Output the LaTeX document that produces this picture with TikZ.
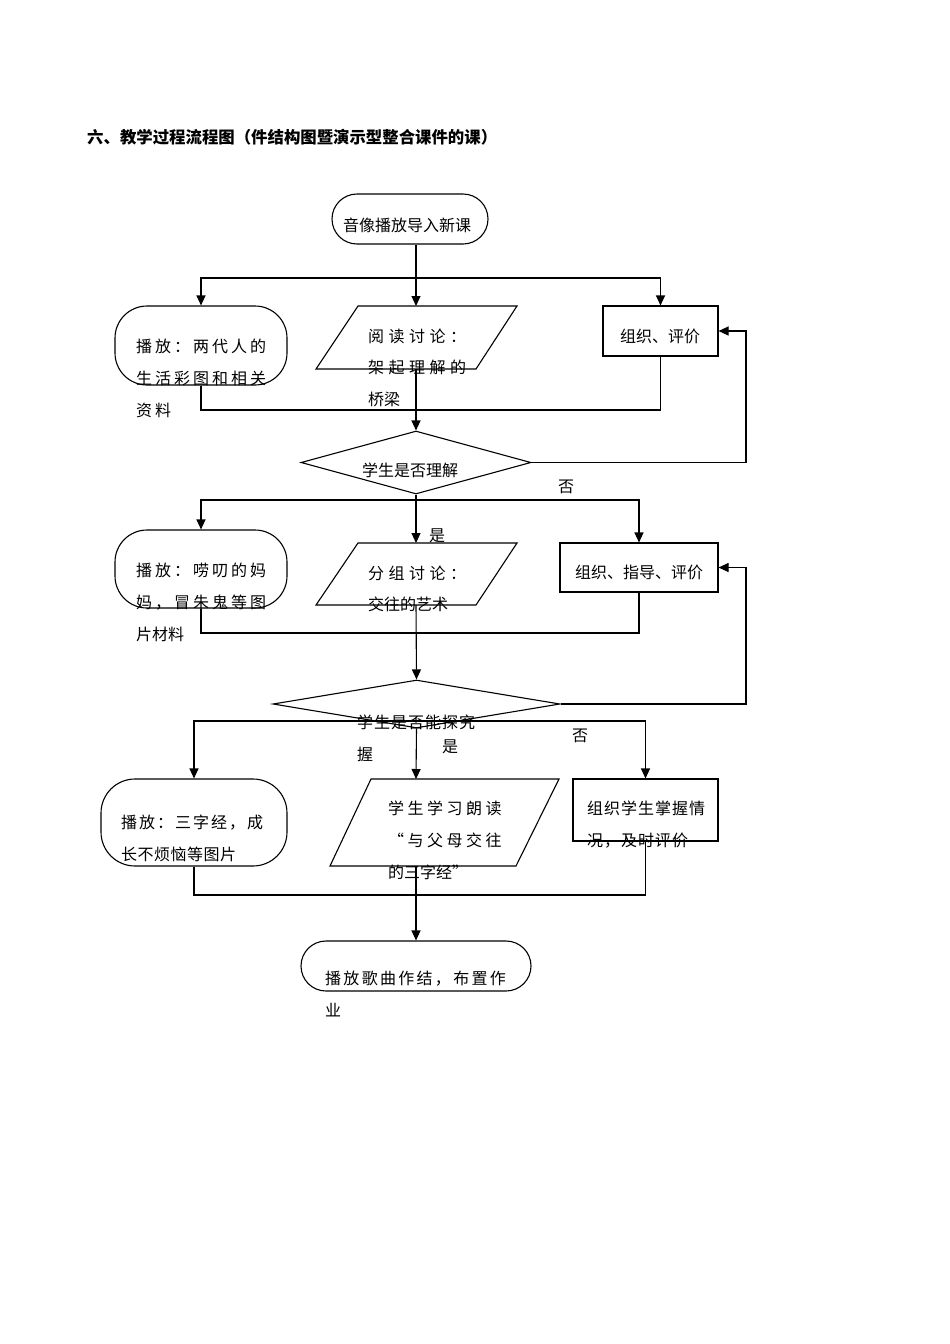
\documentclass[tikz,border=0pt]{standalone}
\usepackage{fontspec}
\setmainfont{Noto Sans CJK SC}
\usetikzlibrary{arrows.meta,shapes.geometric}
\newlength\chsp
\def\sploop#1{\ifx\relax#1\else#1\hskip\chsp\relax\expandafter\sploop\fi}
\newcommand\spt[2]{{\chsp=#1\relax\sploop#2\relax}}
\tikzset{
  line/.style={line width=1.1pt},
  arr/.style={line width=1.1pt,-{Triangle[length=10pt,width=9pt]}},
  term/.style={draw,line width=1.1pt,inner sep=0pt,rectangle},
  box/.style={draw,line width=1.1pt,inner sep=0pt,rectangle},
  dec/.style={draw,diamond,line width=1.1pt,inner sep=0pt},
  txt/.style={anchor=base west,inner sep=0pt,font=\fontsize{16}{16}\selectfont},
  ctxt/.style={anchor=base,inner sep=0pt,font=\fontsize{16}{16}\selectfont},
}
\begin{document}
\begin{tikzpicture}[x=1pt,y=-1pt]
\fill[white] (0,0) rectangle (950,1344);
\useasboundingbox (0,0) rectangle (950,1344);

% title
\node[anchor=base west,inner sep=0pt,font=\fontsize{16.4}{16.4}\selectfont\bfseries] (title) at (87,143) {六、教学过程流程图（件结构图暨演示型整合课件的课）};

% start
\node[term,minimum width=156pt,minimum height=50pt,rounded corners=25pt] (start) at (410,219) {};
\node[ctxt] (startT) at (407,231) {音像播放导入新课};

% ---------- row 1 ----------
\node[term,minimum width=172pt,minimum height=79pt,rounded corners=32pt] (t1) at (201,345.5) {};
\node[txt] (t1a) at (136,352) {\spt{3pt}{播放：两代人的}};
\node[txt] (t1b) at (136,384) {\spt{3pt}{生活彩图和相关}};
\node[txt] (t1c) at (136,416) {\spt{3pt}{资料}};

\draw[line] (358,306) -- (517,306) -- (476,369) -- (316,369) -- cycle;
\coordinate (p1t) at (416,306);
\coordinate (p1b) at (416,369);
\node[txt] (p1a) at (368,342) {\spt{4.5pt}{阅读讨论：}};
\node[txt] (p1b2) at (368,373) {\spt{4.5pt}{架起理解的}};
\node[txt] (p1c) at (368,405) {桥梁};

\node[box,minimum width=115pt,minimum height=50pt] (r1) at (660.5,331) {};
\node[ctxt] (r1T) at (660,342) {组织、评价};

\node[dec,minimum width=230pt,minimum height=63pt] (d1) at (416,462.5) {};
\node[ctxt] (d1T) at (410,476) {学生是否理解};

\coordinate (b1) at (416,278);
\coordinate (j1) at (416,410);
\coordinate (fb) at (746,0);
\draw[line] (start.south -| b1) -- (b1);
\draw[arr] (b1) -| (t1.north);
\draw[arr] (b1) -| (r1.north);
\draw[arr] (b1) -- (p1t);
\draw[line] (t1.south) |- (j1) -| (r1.south);
\draw[arr] (p1b) -- (d1.north);
\draw[arr] (d1.east) -- (d1.east -| fb) |- (r1.east);
\node[ctxt] (no1) at (566,492) {否};

% ---------- row 2 ----------
\node[ctxt] (yes1) at (437,541) {是};
\node[term,minimum width=172pt,minimum height=78pt,rounded corners=32pt] (t2) at (201,569) {};
\node[txt] (t2a) at (136,576) {\spt{3pt}{播放：唠叨的妈}};
\node[txt] (t2b) at (136,608) {\spt{3pt}{妈，冒朱鬼等图}};
\node[txt] (t2c) at (136,640) {片材料};

\draw[line] (358,543) -- (517,543) -- (476,605) -- (316,605) -- cycle;
\coordinate (p2t) at (416,543);
\coordinate (p2b) at (416,605);
\node[txt] (p2a) at (368,579) {\spt{4.5pt}{分组讨论：}};
\node[txt] (p2b2) at (368,610) {交往的艺术};

\node[box,minimum width=158pt,minimum height=49pt] (r2) at (639,567.5) {};
\node[ctxt] (r2T) at (639,578) {组织、指导、评价};

\node[dec,minimum width=287pt,minimum height=48pt] (d2) at (416.5,704) {};
\node[txt] (d2a) at (357,728) {\spt{1pt}{学生是否能探究}};
\node[txt] (d2b) at (357,760) {握};

\coordinate (b2) at (416,500);
\coordinate (j2) at (416,633);
\draw[line] (d1.south) -- (b2);
\draw[arr] (b2) -| (t2.north);
\draw[arr] (b2) -| (r2.north);
\draw[arr] (b2) -- (p2t);
\draw[line] (t2.south) |- (j2) -| (r2.south);
\draw[arr] (p2b) -- (d2.north);
\draw[arr] (d2.east) -- (d2.east -| fb) |- (r2.east);
\node[ctxt] (no2) at (580,741) {否};
\node[ctxt] (yes2) at (450,752) {是};

% ---------- row 3 ----------
\node[term,minimum width=186pt,minimum height=87pt,rounded corners=34pt] (t3) at (194,822.5) {};
\node[txt] (t3a) at (121,828) {\spt{2pt}{播放：三字经，成}};
\node[txt] (t3b) at (121,860) {\spt{0.5pt}{长不烦恼等图片}};

\draw[line] (371,779) -- (559,779) -- (516,866) -- (330,866) -- cycle;
\coordinate (p3t) at (416,779);
\coordinate (p3b) at (416,866);
\node[txt] (p3a) at (388,814) {\spt{3.5pt}{学生学习朗读}};
\node[txt] (p3b2) at (388,846) {\spt{3.5pt}{“与父母交往}};
\node[txt] (p3c) at (388,878) {的三字经”};

\node[box,minimum width=145pt,minimum height=62pt] (r3) at (645.5,810) {};
\node[txt] (r3a) at (587,814) {\spt{1pt}{组织学生掌握情}};
\node[txt] (r3b) at (587,846) {\spt{1pt}{况，及时评价}};

\coordinate (b3) at (416,721);
\coordinate (j3) at (416,895);
\draw[arr] (d2.south) -- (p3t);
\draw[line] (b3 -| t3.north) -- (b3 -| r3.north);
\draw[arr] (b3) -| (t3.north);
\draw[arr] (b3) -| (r3.north);
\draw[line] (t3.south) |- (j3) -| (r3.south);

% end
\node[term,minimum width=230pt,minimum height=50pt,rounded corners=25pt] (end) at (416,966) {};
\node[txt] (endA) at (325,984) {\spt{2.3pt}{播放歌曲作结，布置作}};
\node[txt] (endB) at (325,1016) {业};
\draw[arr] (p3b) -- (end.north);
\end{tikzpicture}
\end{document}
